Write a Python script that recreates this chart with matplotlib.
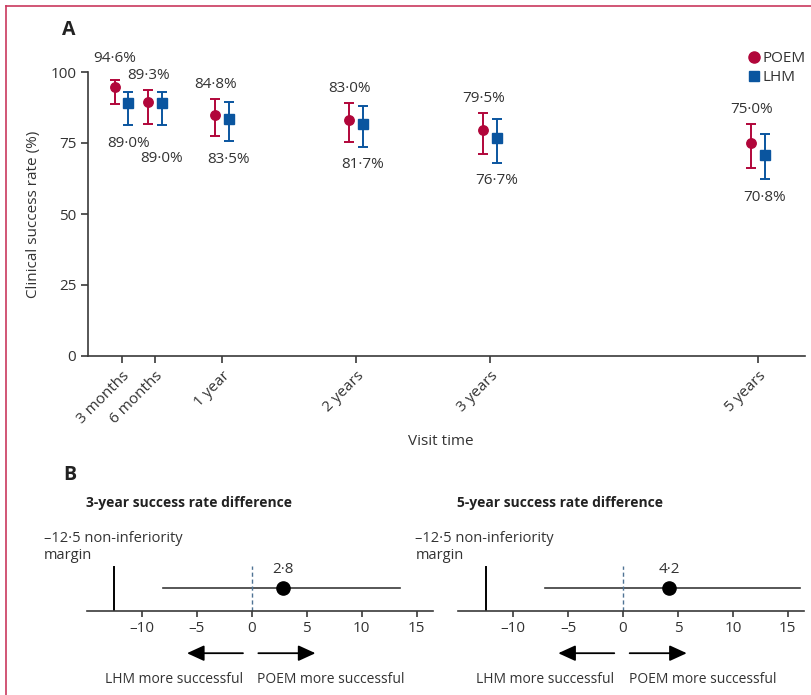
import matplotlib.pyplot as plt
from matplotlib.lines import Line2D
import numpy as np

plt.rcParams['font.family'] = ['Open Sans', 'DejaVu Sans']

# panel A data
visit_years = [0.25, 0.5, 1, 2, 3, 5]
visit_labels = ['3 months', '6 months', '1 year', '2 years', '3 years', '5 years']
poem_rate = [94.6, 89.3, 84.8, 83.0, 79.5, 75.0]
poem_low = [88.7, 81.7, 77.5, 75.5, 71.1, 66.3]
poem_high = [97.3, 93.5, 90.5, 89.2, 85.7, 81.7]
lhm_rate = [89.0, 89.0, 83.5, 81.7, 76.7, 70.8]
lhm_low = [81.3, 81.3, 75.7, 73.7, 68.1, 62.2]
lhm_high = [93.1, 93.1, 89.5, 88.0, 83.5, 78.2]

# panel B data
diff_titles = ['3-year success rate difference', '5-year success rate difference']
diff_est = [2.8, 4.2]
diff_low = [-8.1, -7.1]
diff_high = [13.5, 16.1]
margin = -12.5

POEM_C = '#b1063a'
LHM_C = '#0a559f'
AX_C = '#3a3a3a'
TXT_C = '#333333'

def fmt(v):
    return f"{v:.1f}".replace('.', '\u00b7')

W, H = 812, 695
fig = plt.figure(figsize=(W / 100, H / 100), dpi=100)

# outer frame (left + top)
fig.add_artist(Line2D([6 / W, 6 / W], [0, 1 - 6 / H], color='#c9385e', lw=1.2, transform=fig.transFigure))
fig.add_artist(Line2D([6 / W, 1], [1 - 6 / H, 1 - 6 / H], color='#c9385e', lw=1.2, transform=fig.transFigure))

# ---------- panel A ----------
ax = fig.add_axes([88 / W, 1 - 356 / H, 717 / W, 284 / H])
x = np.array(visit_years)
p = np.array(poem_rate)
l = np.array(lhm_rate)
ax.errorbar(x - 0.05, p, yerr=[p - np.array(poem_low), np.array(poem_high) - p], fmt='o',
            color=POEM_C, ms=6.8, capsize=3.5, elinewidth=1.4, capthick=1.4, clip_on=False, zorder=3)
ax.errorbar(x + 0.05, l, yerr=[l - np.array(lhm_low), np.array(lhm_high) - l], fmt='s',
            color=LHM_C, ms=7, capsize=3.5, elinewidth=1.4, capthick=1.4, clip_on=False, zorder=3)

for i in range(len(x)):
    up = 10.5 + (5 if i == 0 else 0)
    down = 13 + (11 if i == 1 else 0)
    ax.annotate(fmt(poem_rate[i]) + '%', (x[i] - 0.05, poem_high[i]), xytext=(0, up),
                textcoords='offset points', ha='center', va='center', fontsize=11, color=TXT_C,
                annotation_clip=False)
    ax.annotate(fmt(lhm_rate[i]) + '%', (x[i] + 0.05, lhm_low[i]), xytext=(0, -down),
                textcoords='offset points', ha='center', va='center', fontsize=11, color=TXT_C,
                annotation_clip=False)

ax.set_xlim(0, 5.35)
ax.set_ylim(0, 100)
ax.set_yticks([0, 25, 50, 75, 100])
ax.set_xticks(visit_years)
ax.set_xticklabels(visit_labels, rotation=45, ha='right', va='top', rotation_mode='anchor')
for s in ['top', 'right']:
    ax.spines[s].set_visible(False)
for s in ['left', 'bottom']:
    ax.spines[s].set_color(AX_C)
    ax.spines[s].set_linewidth(1.2)
ax.tick_params(colors=AX_C, labelcolor=TXT_C, labelsize=11, length=5, width=1.2)
ax.tick_params(axis='x', pad=4)
ax.set_ylabel('Clinical success rate (%)', fontsize=11, color=TXT_C)
ax.yaxis.set_label_coords(-0.066, 0.5)
ax.set_xlabel('Visit time', fontsize=11, color=TXT_C)
ax.xaxis.set_label_coords(0.492, -0.275)

handles = [Line2D([], [], marker='o', ls='none', color=POEM_C, ms=8),
           Line2D([], [], marker='s', ls='none', color=LHM_C, ms=7.5)]
ax.legend(handles, ['POEM', 'LHM'], loc='upper right', bbox_to_anchor=(1.01, 1.095), frameon=False,
          handlelength=0.6, handletextpad=0.3, labelspacing=0.25, fontsize=11, labelcolor=TXT_C,
          borderaxespad=0)

fig.text(69 / W, 1 - 30 / H, 'A', fontsize=14, fontweight='bold', ha='center', va='center', color='#222222')

# ---------- panel B ----------
fig.text(70 / W, 1 - 475 / H, 'B', fontsize=14, fontweight='bold', ha='center', va='center', color='#222222')

for k, left in enumerate([87, 458.3]):
    bx = fig.add_axes([left / W, 1 - 610.7 / H, 346 / W, 50 / H])
    bx.set_xlim(-15, 16.5)
    bx.set_ylim(0, 1)
    for s in ['top', 'right', 'left']:
        bx.spines[s].set_visible(False)
    bx.spines['bottom'].set_color(AX_C)
    bx.spines['bottom'].set_linewidth(1.2)
    bx.set_yticks([])
    ticks = [-10, -5, 0, 5, 10, 15]
    bx.set_xticks(ticks)
    bx.set_xticklabels([str(t).replace('-', '\u2013') for t in ticks])
    bx.tick_params(axis='x', colors=AX_C, labelcolor=TXT_C, labelsize=11, length=4.5, width=1.2, pad=3)

    bx.plot([diff_low[k], diff_high[k]], [0.46, 0.46], color=AX_C, lw=1.2)
    bx.plot([diff_est[k]], [0.46], 'o', color='black', ms=9.5)
    bx.plot([margin, margin], [0, 0.88], color='black', lw=1.4)
    bx.plot([0, 0], [0, 0.9], color='#4f7394', lw=1, ls=(0, (3, 2)))
    bx.text(diff_est[k], 0.83, fmt(diff_est[k]), ha='center', va='center', fontsize=11, color=TXT_C)
    bx.text(-15.1, 2.16, diff_titles[k], ha='left', va='center', fontsize=10, fontweight='bold',
            color='#222222', clip_on=False)
    bx.text(-18.9, 1.28, '\u201312\u00b75 non-inferiority\nmargin', ha='left', va='center', fontsize=10.5,
            color=TXT_C, linespacing=1.2, clip_on=False)

    arrow = dict(arrowstyle='-|>,head_length=0.7,head_width=0.32', color='black', lw=1.3,
                 mutation_scale=15, shrinkA=0, shrinkB=0)
    bx.annotate('', xy=(-5.9, -0.85), xytext=(-0.8, -0.85), arrowprops=arrow, annotation_clip=False)
    bx.annotate('', xy=(5.8, -0.85), xytext=(0.6, -0.85), arrowprops=arrow, annotation_clip=False)
    bx.text(-0.8, -1.37, 'LHM more successful', ha='right', va='center', fontsize=10, color=TXT_C, clip_on=False)
    bx.text(0.5, -1.37, 'POEM more successful', ha='left', va='center', fontsize=10, color=TXT_C, clip_on=False)

fig.savefig('out.png', dpi=100)
